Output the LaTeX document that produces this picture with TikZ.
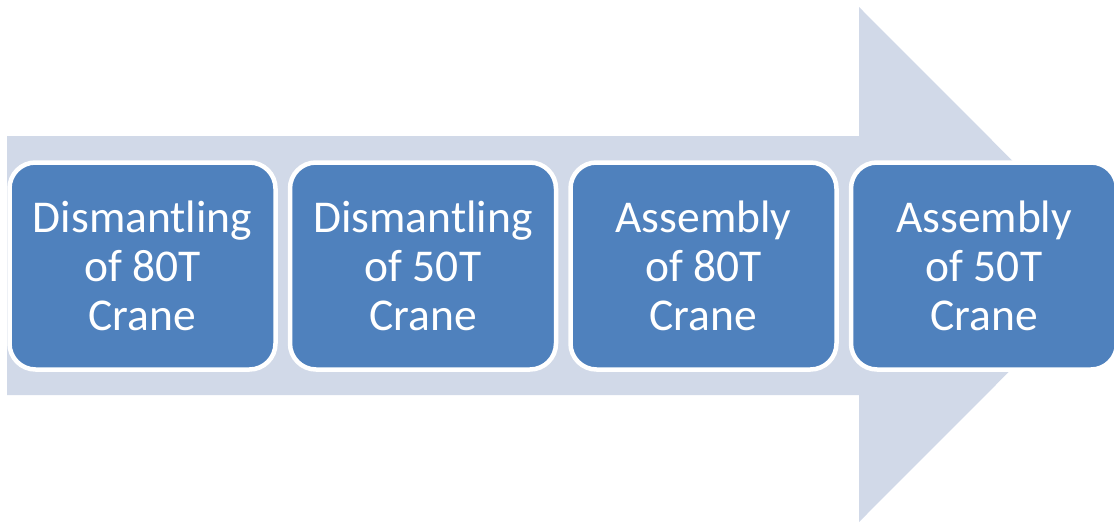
\documentclass[tikz,border=0pt]{standalone}
\usepackage{fontspec}
\setmainfont{Carlito}

\definecolor{stepblue}{HTML}{4F81BD}
\definecolor{arrowgrey}{HTML}{D1D9E8}

\begin{document}
\begin{tikzpicture}[x=1pt, y=-1pt,
  stepbox/.style={draw=white, line width=4.5pt, fill=stepblue, rounded corners=26pt,
    minimum width=266pt, minimum height=207pt, inner sep=0pt, text=white,
    align=center, font=\fontsize{45.5}{49}\selectfont}]

\useasboundingbox (0,0) rectangle (1114,525);

\def \pitch {280.5} % distance between box centres
\def \midy {266}

% the big arrow behind the boxes
\fill[arrowgrey] (7,136) -- (859,136) -- (859,7) -- (1116,264.5)
  -- (859,522) -- (859,395) -- (7,395) -- cycle;

\foreach \lbl [count=\i] in {{Dismantling\\of 80T\\Crane},
  {Dismantling\\of 50T\\Crane}, {Assembly\\of 80T\\Crane}, {Assembly\\of 50T\\Crane}}
{
  \node[stepbox] (step\i) at ({142.5 + \pitch*(\i-1)}, \midy) {\lbl};
}
\end{tikzpicture}
\end{document}
